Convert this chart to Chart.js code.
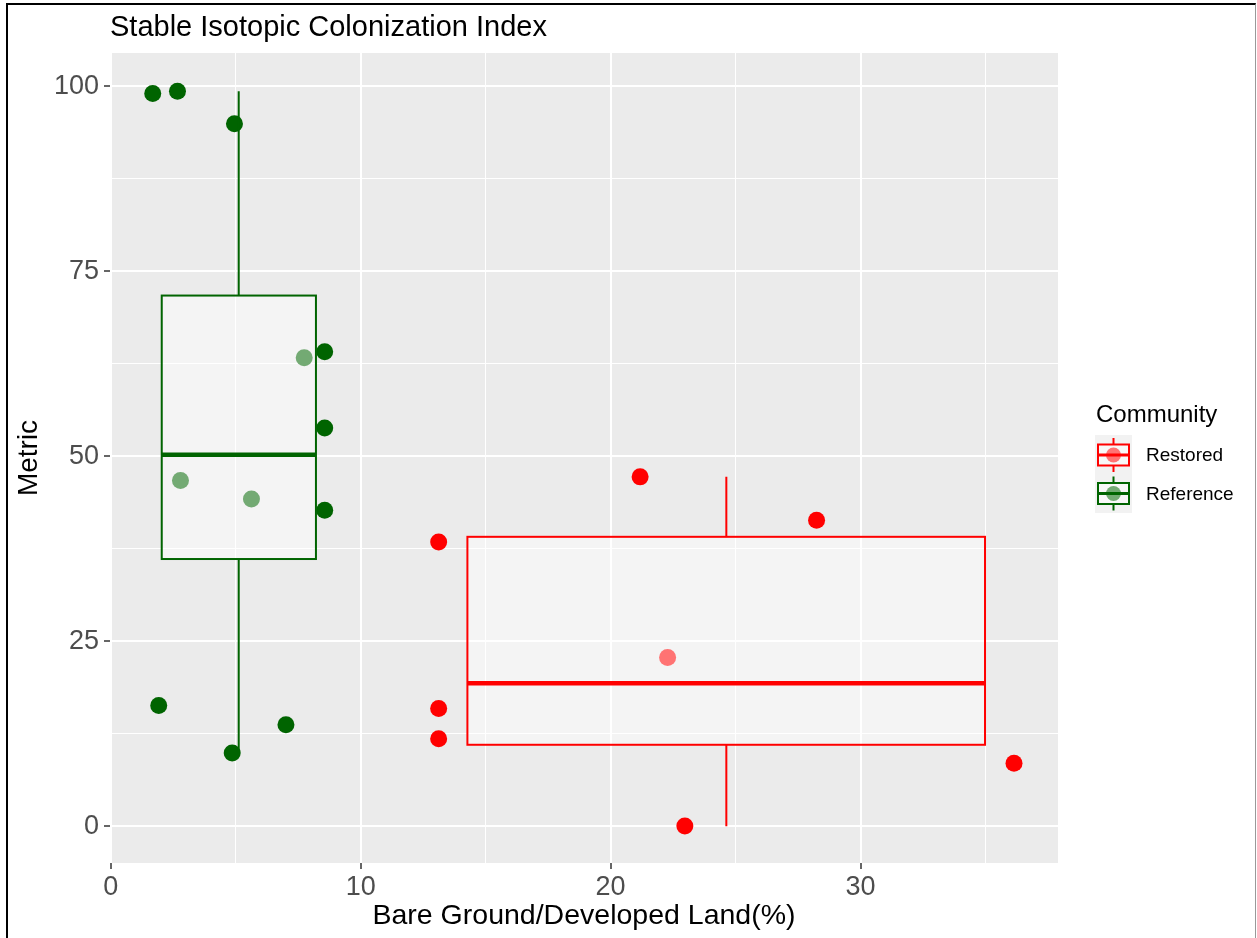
<!DOCTYPE html>
<html>
<head>
<meta charset="utf-8">
<script src="https://cdn.jsdelivr.net/npm/chart.js@4.4.1/dist/chart.umd.min.js"></script>
<style>
  html, body { margin: 0; padding: 0; background: #fff; }
  #wrap { position: relative; width: 1257px; height: 938px; overflow: hidden; font-family: "Liberation Sans", Arial, sans-serif; }
  #chart { position: absolute; left: 0; top: 0; }
  #title { position: absolute; left: 110px; top: 12px; font-size: 29px; line-height: 29px; color: #000; white-space: nowrap; }
  #frame { position: absolute; left: 6px; top: 3px; width: 1247px; height: 940px; border-left: 2px solid #000; border-top: 2px solid #000; border-right: 1px solid #999; pointer-events: none; }
</style>
</head>
<body>
<div id="wrap">
  <canvas id="chart" width="1257" height="938"></canvas>
  <div id="title">Stable Isotopic Colonization Index</div>
  <div id="frame"></div>
</div>
<script>
// points
const restoredX = [13.12, 13.12, 13.12, 21.18, 28.24, 22.97, 36.14, 22.28];
const restoredY = [38.4, 15.9, 11.8, 47.2, 41.35, 0.04, 8.5, 22.8];
const referenceX = [1.68, 2.67, 4.95, 8.56, 8.56, 8.56, 1.92, 4.86, 7.01, 7.74, 2.79, 5.63];
const referenceY = [99.0, 99.3, 94.9, 64.1, 53.8, 42.7, 16.3, 9.9, 13.7, 63.3, 46.7, 44.2];

// box summaries (Restored, Reference)
const groups = ['Restored', 'Reference'];
const groupColors = ['#FF0000', '#006400'];
const boxLeft = [14.27, 2.04];
const boxRight = [34.98, 8.21];
const whiskerX = [24.63, 5.12];
const whiskerLow = [0, 9.9];
const boxQ1 = [11.0, 36.1];
const boxMedian = [19.3, 50.2];
const boxQ3 = [39.1, 71.7];
const whiskerHigh = [47.2, 99.3];

const xTickVals = [0, 5, 10, 15, 20, 25, 30, 35];
const xTickLabels = ['0', '', '10', '', '20', '', '30', ''];
const yTickVals = [0, 12.5, 25, 37.5, 50, 62.5, 75, 87.5, 100];
const yTickLabels = ['0', '', '25', '', '50', '', '75', '', '100'];

const FONT = '"Liberation Sans", Arial, sans-serif';
const BOX_FILL = 'rgba(255,255,255,0.45)';

function toPoints(xs, ys) {
    return xs.map((x, i) => ({ x: x, y: ys[i] }));
}

// panel background, boxes and legend
const boxPlugin = {
    id: 'boxes',
    beforeDraw(chart) {
        const a = chart.chartArea;
        const ctx = chart.ctx;
        ctx.save();
        ctx.fillStyle = '#EBEBEB';
        ctx.fillRect(a.left, a.top, a.right - a.left, a.bottom - a.top);
        ctx.restore();
    },
    afterDatasetsDraw(chart) {
        const ctx = chart.ctx;
        const xs = chart.scales.x;
        const ys = chart.scales.y;
        ctx.save();
        groups.forEach((g, i) => {
            const l = xs.getPixelForValue(boxLeft[i]);
            const r = xs.getPixelForValue(boxRight[i]);
            const wx = xs.getPixelForValue(whiskerX[i]);
            const q1 = ys.getPixelForValue(boxQ1[i]);
            const q3 = ys.getPixelForValue(boxQ3[i]);
            const med = ys.getPixelForValue(boxMedian[i]);
            ctx.strokeStyle = groupColors[i];
            // whiskers
            ctx.lineWidth = 2;
            ctx.beginPath();
            ctx.moveTo(wx, ys.getPixelForValue(whiskerHigh[i]));
            ctx.lineTo(wx, q3);
            ctx.moveTo(wx, q1);
            ctx.lineTo(wx, ys.getPixelForValue(whiskerLow[i]));
            ctx.stroke();
            // box
            ctx.fillStyle = BOX_FILL;
            ctx.fillRect(l, q3, r - l, q1 - q3);
            ctx.strokeRect(l, q3, r - l, q1 - q3);
            // median
            ctx.lineWidth = 4.5;
            ctx.beginPath();
            ctx.moveTo(l, med);
            ctx.lineTo(r, med);
            ctx.stroke();
        });
        ctx.restore();
    },
    afterDraw(chart) {
        const ctx = chart.ctx;
        ctx.save();
        ctx.fillStyle = '#000';
        ctx.textBaseline = 'middle';
        ctx.font = '24px ' + FONT;
        ctx.fillText('Community', 1096, 415);
        ctx.fillStyle = '#F2F2F2';
        ctx.fillRect(1095, 435, 37, 78);
        groups.forEach((g, i) => {
            const cy = 455 + 38.5 * i;
            const cx = 1113.5;
            ctx.fillStyle = groupColors[i];
            ctx.beginPath();
            ctx.arc(cx, cy, 7.5, 0, Math.PI * 2);
            ctx.fill();
            ctx.strokeStyle = groupColors[i];
            ctx.lineWidth = 2;
            ctx.beginPath();
            ctx.moveTo(cx, cy - 17);
            ctx.lineTo(cx, cy - 10);
            ctx.moveTo(cx, cy + 10);
            ctx.lineTo(cx, cy + 17);
            ctx.stroke();
            ctx.fillStyle = BOX_FILL;
            ctx.fillRect(1098, cy - 10.5, 31, 21);
            ctx.strokeRect(1098, cy - 10.5, 31, 21);
            ctx.lineWidth = 3;
            ctx.beginPath();
            ctx.moveTo(1098, cy);
            ctx.lineTo(1129, cy);
            ctx.stroke();
            ctx.fillStyle = '#000';
            ctx.font = '19px ' + FONT;
            ctx.fillText(g, 1146, cy + 1);
        });
        ctx.restore();
    }
};

function isMajor(labels, index) {
    return labels[index] !== undefined && labels[index] !== '';
}

new Chart(document.getElementById('chart'), {
    type: 'scatter',
    data: {
        datasets: [
            {
                label: 'Restored',
                data: toPoints(restoredX, restoredY),
                backgroundColor: '#FF0000',
                borderColor: '#FF0000',
                borderWidth: 0,
                pointRadius: 8.5
            },
            {
                label: 'Reference',
                data: toPoints(referenceX, referenceY),
                backgroundColor: '#006400',
                borderColor: '#006400',
                borderWidth: 0,
                pointRadius: 8.5
            }
        ]
    },
    options: {
        responsive: false,
        animation: false,
        events: [],
        layout: { padding: { left: 8, right: 199, top: 53, bottom: 0 } },
        plugins: {
            legend: { display: false },
            title: { display: false },
            tooltip: { enabled: false }
        },
        scales: {
            x: {
                type: 'linear',
                min: -0.03,
                max: 37.9,
                afterBuildTicks: s => { s.ticks = xTickVals.map(v => ({ value: v })); },
                afterFit: s => { s.height = 75; },
                border: { display: false },
                grid: {
                    color: '#FFFFFF',
                    lineWidth: c => isMajor(xTickLabels, c.index) ? 2 : 1,
                    tickColor: c => isMajor(xTickLabels, c.index) ? '#333333' : 'rgba(0,0,0,0)',
                    tickLength: 6,
                    tickWidth: 1.5
                },
                ticks: {
                    autoSkip: false,
                    maxRotation: 0,
                    padding: 2,
                    color: '#4D4D4D',
                    font: { family: FONT, size: 27 },
                    callback: v => xTickLabels[xTickVals.indexOf(v)]
                },
                title: {
                    display: true,
                    text: 'Bare Ground/Developed Land(%)',
                    color: '#000',
                    font: { family: FONT, size: 28.5 },
                    padding: { top: 5, bottom: 5 }
                }
            },
            y: {
                type: 'linear',
                min: -4.975,
                max: 104.475,
                afterBuildTicks: s => { s.ticks = yTickVals.map(v => ({ value: v })); },
                afterFit: s => { s.width = 102; },
                border: { display: false },
                grid: {
                    color: '#FFFFFF',
                    lineWidth: c => isMajor(yTickLabels, c.index) ? 2 : 1,
                    tickColor: c => isMajor(yTickLabels, c.index) ? '#333333' : 'rgba(0,0,0,0)',
                    tickLength: 6,
                    tickWidth: 1.5
                },
                ticks: {
                    autoSkip: false,
                    padding: 5,
                    color: '#4D4D4D',
                    font: { family: FONT, size: 27 },
                    callback: v => yTickLabels[yTickVals.indexOf(v)]
                },
                title: {
                    display: true,
                    text: 'Metric',
                    color: '#000',
                    font: { family: FONT, size: 28 },
                    padding: { top: 4, bottom: 4 }
                }
            }
        }
    },
    plugins: [boxPlugin]
});
</script>
</body>
</html>
